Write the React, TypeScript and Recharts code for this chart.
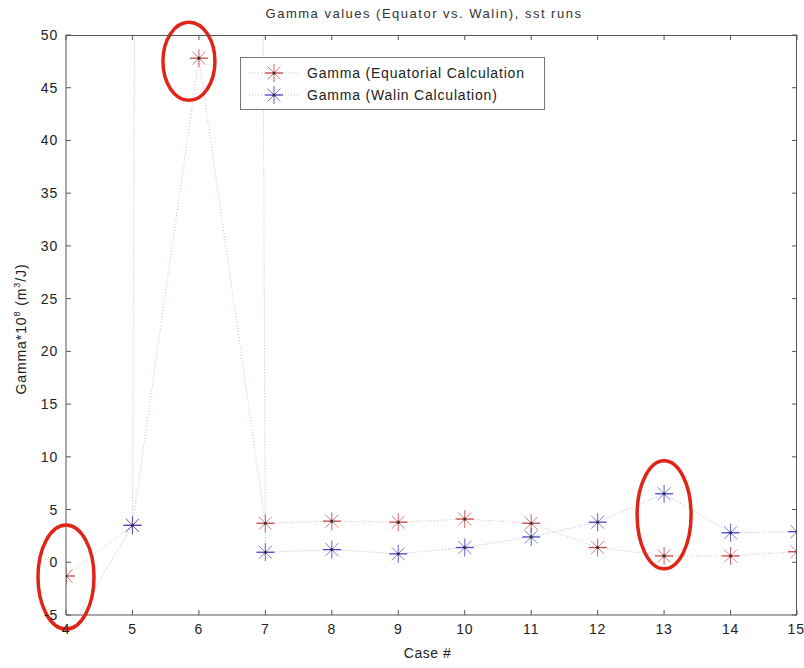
import React from "react";
import { LineChart, Line, XAxis, YAxis, Legend, ReferenceDot, CartesianGrid, Label } from "recharts";

// case numbers on the x axis
const cases = [4, 5, 6, 7, 8, 9, 10, 11, 12, 13, 14, 15];
// Gamma * 10^8, equatorial calculation
const equatorial = [-1.3, 3.5, 47.8, 3.7, 3.9, 3.8, 4.1, 3.7, 1.4, 0.6, 0.6, 1.0];
// Gamma * 10^8, Walin calculation (4 and 6 lie off the plotted range)
const walin = [-7, 3.5, 1500, 0.95, 1.2, 0.8, 1.4, 2.4, 3.8, 6.5, 2.8, 2.9];
const yTicks = [-5, 0, 5, 10, 15, 20, 25, 30, 35, 40, 45, 50];

// hand-drawn highlight ellipses (data coordinates of their centres)
const markX = [4, 5.85, 13];
const markY = [-1.4, 47.5, 4.5];
const markRx = [28, 26, 27];
const markRy = [52, 39, 54];

const data = cases.map((c, i) => ({ case: c, equatorial: equatorial[i], walin: walin[i] }));

const W = 804;
const H = 668;
const MARGIN = { top: 35, right: 7, bottom: 0, left: 0 };
const X_AXIS_H = 53;
const Y_AXIS_W = 66;
const PLOT = {
  x: MARGIN.left + Y_AXIS_W,
  y: MARGIN.top,
  w: W - MARGIN.left - MARGIN.right - Y_AXIS_W,
  h: H - MARGIN.top - MARGIN.bottom - X_AXIS_H,
};

const FONT = "'Liberation Sans', Arial, Helvetica, sans-serif";
const RED = "#c84848";
const BLUE = "#4848c8";
const RED_LINE = "#dcb8b8";
const BLUE_LINE = "#b8b8dc";
const AXIS = "#555";

const Asterisk = ({ cx, cy, color, r = 9 }: { cx?: number; cy?: number; color: string; r?: number }) => {
  if (cx == null || cy == null || isNaN(cx) || isNaN(cy)) return null;
  const d = r * 0.72;
  return (
    <g>
      <line x1={cx - r} y1={cy} x2={cx + r} y2={cy} stroke={color} strokeWidth={1.3} />
      <line x1={cx} y1={cy - r} x2={cx} y2={cy + r} stroke={color} strokeWidth={1.1} strokeOpacity={0.8} />
      <line x1={cx - d} y1={cy - d} x2={cx + d} y2={cy + d} stroke={color} strokeWidth={1} strokeOpacity={0.7} />
      <line x1={cx - d} y1={cy + d} x2={cx + d} y2={cy - d} stroke={color} strokeWidth={1} strokeOpacity={0.7} />
      <circle cx={cx} cy={cy} r={1.6} fill="#333" />
    </g>
  );
};

// inward ticks on the top and right edges of the axes box (matlab style)
const FrameTicks = () => {
  const top = PLOT.y;
  const right = PLOT.x + PLOT.w;
  return (
    <svg width={W} height={H} style={{ position: "absolute", left: 0, top: 0, pointerEvents: "none", zIndex: 3 }}>
      <line x1={PLOT.x} y1={top + 0.5} x2={right} y2={top + 0.5} stroke={AXIS} />
      <line x1={right - 0.5} y1={top} x2={right - 0.5} y2={top + PLOT.h} stroke={AXIS} />
      {cases.map((c) => {
        const tx = PLOT.x + ((c - cases[0]) / (cases[cases.length - 1] - cases[0])) * PLOT.w;
        return <line key={`t${c}`} x1={tx} y1={top} x2={tx} y2={top + 5} stroke={AXIS} />;
      })}
      {yTicks.map((t) => {
        const ty = PLOT.y + PLOT.h - ((t - yTicks[0]) / (yTicks[yTicks.length - 1] - yTicks[0])) * PLOT.h;
        return <line key={`r${t}`} x1={right} y1={ty} x2={right - 5} y2={ty} stroke={AXIS} />;
      })}
    </svg>
  );
};

const legendItems = [
  { label: "Gamma (Equatorial Calculation", color: RED, line: RED_LINE },
  { label: "Gamma (Walin Calculation)", color: BLUE, line: BLUE_LINE },
];

const LegendBox = () => (
  <div
    style={{
      width: 305,
      height: 53,
      boxSizing: "border-box",
      border: "1px solid #777",
      background: "#fff",
      paddingTop: 4,
      fontFamily: FONT,
      fontSize: 14,
      letterSpacing: 0.8,
      color: "#222",
    }}
  >
    {legendItems.map((it) => (
      <div key={it.label} style={{ display: "flex", alignItems: "center", height: 22 }}>
        <svg width={66} height={22}>
          <line x1={8} y1={11} x2={58} y2={11} stroke={it.line} strokeDasharray="1 2" />
          <Asterisk cx={33} cy={11} color={it.color} />
        </svg>
        <span>{it.label}</span>
      </div>
    ))}
  </div>
);

const YTitle = (props: any) => {
  const vb = props.viewBox || { x: 0, y: 35, width: 66, height: 580 };
  const cx = vb.x + 26;
  const cy = vb.y + vb.height / 2 + 4;
  return (
    <text
      x={cx}
      y={cy}
      transform={`rotate(-90, ${cx}, ${cy})`}
      textAnchor="middle"
      fontFamily={FONT}
      fontSize={14}
      letterSpacing={0.9}
      fill="#222"
    >
      Gamma*10
      <tspan dy={-6} fontSize={9}>8</tspan>
      <tspan dy={6}> (m</tspan>
      <tspan dy={-6} fontSize={9}>3</tspan>
      <tspan dy={6}>/J)</tspan>
    </text>
  );
};

const XTitle = (props: any) => {
  const vb = props.viewBox || { x: 66, y: 615, width: 731, height: 53 };
  return (
    <text
      x={vb.x + vb.width / 2 - 4}
      y={vb.y + 43}
      textAnchor="middle"
      fontFamily={FONT}
      fontSize={14}
      letterSpacing={0.5}
      fill="#222"
    >
      Case #
    </text>
  );
};

const tickStyle = { fontFamily: FONT, fontSize: 14, fill: "#222", letterSpacing: 0.8 };

export default function App() {
  return (
    <div style={{ position: "absolute", left: 0, top: 0, width: W, height: H, background: "#fff" }}>
      <div
        style={{
          position: "absolute",
          left: 0,
          top: 6,
          width: 848,
          textAlign: "center",
          fontFamily: FONT,
          fontSize: 13,
          letterSpacing: 1.5,
          color: "#333",
          zIndex: 2,
        }}
      >
        Gamma values (Equator vs. Walin), sst runs
      </div>
      <LineChart width={W} height={H} data={data} margin={MARGIN}>
        {/* top and right edges of the box, drawn as single grid lines */}
        <CartesianGrid
          horizontalPoints={[PLOT.y + 0.5]}
          verticalPoints={[PLOT.x + PLOT.w - 0.5]}
          stroke={AXIS}
          strokeDasharray=""
        />
        <XAxis
          dataKey="case"
          type="number"
          domain={[4, 15]}
          ticks={cases}
          allowDataOverflow
          height={X_AXIS_H}
          stroke={AXIS}
          tickSize={-5}
          tickMargin={14}
          tick={tickStyle}
        >
          <Label content={<XTitle />} />
        </XAxis>
        <YAxis
          type="number"
          domain={[-5, 50]}
          ticks={yTicks}
          allowDataOverflow
          width={Y_AXIS_W}
          stroke={AXIS}
          tickSize={-5}
          tickMargin={13}
          tick={tickStyle}
        >
          <Label content={<YTitle />} />
        </YAxis>
        <Line
          dataKey="equatorial"
          name="Gamma (Equatorial Calculation"
          stroke={RED_LINE}
          strokeDasharray="1 2"
          strokeWidth={1}
          dot={(p: any) => <Asterisk key={`e${p.index}`} cx={p.cx} cy={p.cy} color={RED} />}
          activeDot={false}
          isAnimationActive={false}
        />
        <Line
          dataKey="walin"
          name="Gamma (Walin Calculation)"
          stroke={BLUE_LINE}
          strokeDasharray="1 2"
          strokeWidth={1}
          dot={(p: any) => <Asterisk key={`w${p.index}`} cx={p.cx} cy={p.cy} color={BLUE} />}
          activeDot={false}
          isAnimationActive={false}
        />
        <Legend
          layout="horizontal"
          verticalAlign="middle"
          align="center"
          content={<LegendBox />}
          wrapperStyle={{ position: "absolute", top: 57, left: 240, width: 305, height: 53 }}
        />
        {markX.map((mx, i) => (
          <ReferenceDot
            key={`m${i}`}
            x={mx}
            y={markY[i]}
            ifOverflow="visible"
            shape={(p: any) => (
              <ellipse
                cx={p.cx}
                cy={p.cy}
                rx={markRx[i]}
                ry={markRy[i]}
                fill="none"
                stroke="#e02418"
                strokeWidth={3.5}
              />
            )}
          />
        ))}
      </LineChart>
      <FrameTicks />
    </div>
  );
}
